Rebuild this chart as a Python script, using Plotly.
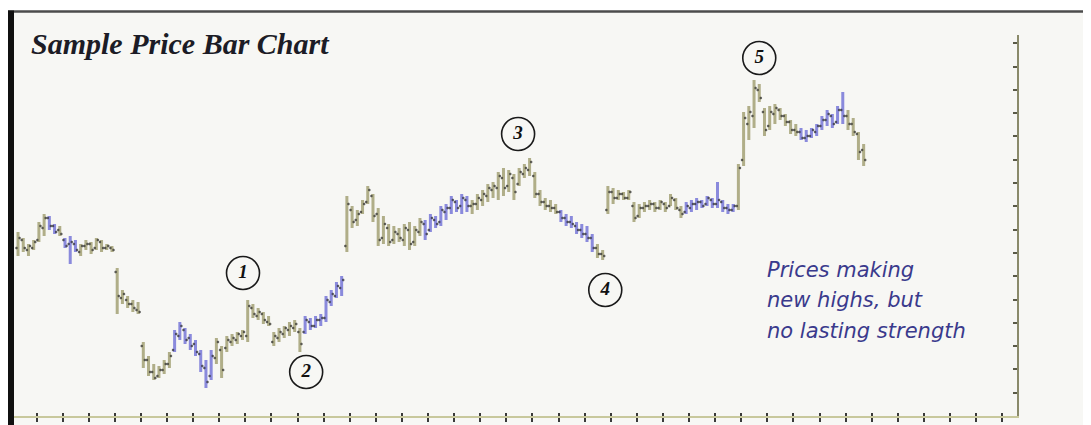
import plotly.graph_objects as go

# ---------------- data ----------------
high = [29.2,28.9,28.6,28.8,29.7,30.1,30.0,29.6,29.5,28.9,
        29.0,28.8,28.6,28.8,28.7,28.9,28.8,28.6,28.5,27.4,
        26.3,26.0,25.8,25.7,23.7,23.0,22.6,22.5,22.8,23.2,
        24.3,24.7,24.4,24.1,23.8,23.3,22.8,23.3,23.9,23.5,
        24.0,24.1,24.2,24.3,25.8,25.6,25.4,25.2,25.0,24.2,
        24.4,24.5,24.7,24.8,24.4,25.0,24.9,25.0,25.1,26.0,
        26.3,26.7,27.0,31.0,30.5,30.3,30.8,31.5,31.1,30.4,
        30.0,29.6,29.5,29.4,29.6,29.7,29.5,29.9,29.8,30.1,
        30.0,30.5,30.6,31.0,30.8,31.1,31.0,30.8,31.1,31.3,
        31.6,31.7,32.2,32.4,32.3,32.1,32.4,32.6,32.9,32.2,
        31.3,30.9,30.8,30.6,30.3,30.1,30.0,29.7,29.6,29.5,
        29.1,28.6,28.3,31.5,31.4,31.3,31.2,31.3,30.7,30.6,
        30.7,30.8,30.7,30.8,30.7,31.1,30.9,30.5,30.7,30.8,
        30.9,30.8,31.0,30.9,31.7,30.8,30.6,30.6,32.6,35.2,
        35.5,36.8,36.6,35.4,35.5,35.6,35.4,35.1,34.8,34.6,
        34.4,34.3,34.4,34.6,35.0,35.3,35.1,35.5,36.2,35.3,
        34.9,34.2,33.6]

low = [28.0,28.2,28.0,28.3,28.7,29.0,29.3,29.1,29.0,28.4,
       27.6,28.2,28.0,28.3,28.1,28.3,28.2,28.3,28.2,25.1,
       25.6,25.4,25.2,25.1,22.4,22.0,21.8,21.9,22.1,22.4,
       23.2,23.8,23.6,23.3,23.0,22.2,21.4,21.8,22.6,21.9,
       23.2,23.5,23.6,23.8,23.7,24.9,24.8,24.6,24.5,23.5,
       23.7,23.9,24.0,24.2,23.2,24.1,24.3,24.4,24.5,24.7,
       25.5,25.9,26.0,28.2,29.4,29.5,30.1,30.6,29.7,28.5,
       28.6,28.5,28.6,28.7,28.5,28.3,28.5,29.0,28.8,29.2,
       29.4,29.5,29.8,30.1,30.2,30.1,30.2,30.1,30.3,30.5,
       30.7,30.9,30.8,31.0,31.2,30.8,31.5,31.9,32.0,30.9,
       30.5,30.3,30.2,30.1,29.7,29.5,29.4,29.1,28.9,28.7,
       28.2,27.9,27.8,30.1,30.6,30.8,30.8,30.8,29.7,29.9,
       30.2,30.3,30.2,30.3,30.2,30.5,30.3,29.9,30.1,30.2,
       30.3,30.4,30.5,30.4,30.4,30.2,30.1,30.2,30.3,32.5,
       33.8,34.4,35.7,34.0,34.3,34.6,34.8,34.5,34.1,34.0,
       33.8,33.7,33.9,34.0,34.3,34.5,34.4,34.6,34.6,34.3,
       34.0,32.8,32.5]

open_ = [28.4,28.8,28.3,28.4,28.8,29.4,29.9,29.5,29.3,28.8,
         28.6,28.6,28.2,28.5,28.6,28.4,28.7,28.4,28.4,27.2,
         25.9,25.8,25.6,25.3,23.5,22.8,22.2,22.0,22.3,22.6,
         23.3,24.0,24.3,23.9,23.6,23.1,22.4,22.0,22.9,23.3,
         23.4,23.7,23.8,24.0,24.0,25.4,25.0,25.1,24.7,23.7,
         23.9,24.1,24.3,24.4,24.2,24.2,24.7,24.5,24.8,24.9,
         25.7,26.0,26.4,28.5,30.3,29.8,30.2,30.7,31.0,30.1,
         28.9,29.4,28.8,29.1,28.8,29.3,28.7,29.2,29.6,29.3,
         29.8,29.7,30.2,30.4,30.7,30.5,30.8,30.5,30.6,30.8,
         31.0,31.3,31.4,31.9,31.5,31.9,31.6,32.1,32.3,32.0,
         31.1,30.7,30.5,30.4,30.2,29.9,29.7,29.5,29.3,29.1,
         28.9,28.4,28.1,30.3,31.2,30.9,31.1,30.9,30.5,30.0,
         30.4,30.5,30.6,30.4,30.6,30.5,30.8,30.3,30.2,30.4,
         30.6,30.7,30.6,30.8,30.6,30.7,30.4,30.3,30.5,32.8,
         34.6,35.0,36.3,35.2,34.5,35.1,35.3,35.0,34.7,34.3,
         34.2,33.9,34.0,34.2,34.5,34.8,35.0,34.7,35.3,35.0,
         34.6,34.1,33.3]

close = [28.9,28.4,28.5,28.7,29.5,29.9,29.5,29.2,29.1,28.5,
         28.7,28.3,28.5,28.6,28.3,28.8,28.4,28.5,28.3,26.0,
         26.1,25.6,25.4,25.2,22.8,22.2,21.9,22.3,22.6,23.0,
         24.1,24.5,23.8,23.5,23.2,22.5,21.7,23.0,23.7,22.3,
         23.8,23.9,24.1,24.2,25.5,25.1,25.2,24.8,24.6,24.0,
         24.2,24.4,24.5,24.6,23.6,24.8,24.5,24.8,24.9,25.8,
         26.1,26.5,26.8,30.6,29.7,30.1,30.6,31.3,30.0,28.8,
         29.6,28.7,29.2,28.9,29.4,28.6,29.3,29.7,29.1,29.9,
         29.6,30.3,30.4,30.8,30.4,30.9,30.5,30.6,30.9,31.1,
         31.4,31.5,32.0,31.4,32.1,31.2,32.2,32.4,32.7,31.1,
         30.7,30.5,30.4,30.2,29.9,29.7,29.6,29.3,29.1,28.9,
         28.4,28.1,28.0,31.2,30.9,31.1,30.9,31.2,29.9,30.4,
         30.5,30.6,30.4,30.7,30.4,30.9,30.4,30.1,30.5,30.6,
         30.7,30.5,30.9,30.6,30.8,30.4,30.3,30.5,32.4,34.9,
         35.2,36.4,35.9,34.3,35.2,35.4,35.0,34.7,34.3,34.2,
         33.9,34.0,34.3,34.5,34.8,35.1,34.6,35.3,35.0,34.6,
         34.2,33.2,32.8]

# colour group of consecutive bars: (group, number of bars)
color_runs = [("olive", 6), ("blue", 2), ("olive", 1), ("blue", 3), ("olive", 18),
              ("blue", 8), ("olive", 17), ("blue", 8), ("olive", 15), ("blue", 9),
              ("olive", 17), ("blue", 7), ("olive", 17), ("blue", 10), ("olive", 12),
              ("blue", 9), ("olive", 4)]

label_text = ["1", "2", "3", "4", "5"]
label_x = [43.1, 55.2, 95.8, 112.5, 142.0]
label_y = [27.15, 22.2, 34.1, 26.3, 37.9]

note_lines = ["Prices making", "new highs, but", "no lasting strength"]
note_y = [27.3, 25.8, 24.25]
note_x = 143.1

title_text = "Sample Price Bar Chart"

# ---------------- figure ----------------
n = len(high)
assert len(low) == n and len(open_) == n and len(close) == n
bar_x = list(range(n))
bar_group = []
for g, k in color_runs:
    bar_group += [g] * k
assert len(bar_group) == n

group_colors = {"olive": "#b0ae88", "blue": "#8a8adc"}

# the page body has an 8px margin, so the figure is drawn 8px right/down
OFF = 8
W, H = 1091 - OFF, 425 - OFF
L, R, T, B = 14 - OFF, 1091 - 1017, 35 - OFF, 425 - 416
pw, ph = W - L - R, H - T - B


def px(p):  # screen x -> paper x
    return (p - OFF - L) / pw


def py(q):  # screen y -> paper y
    return (H - B - (q - OFF)) / ph


fig = go.Figure()
for g, col in group_colors.items():
    idx = [i for i in range(n) if bar_group[i] == g]
    fig.add_trace(go.Ohlc(
        x=[bar_x[i] for i in idx],
        open=[open_[i] for i in idx], high=[high[i] for i in idx],
        low=[low[i] for i in idx], close=[close[i] for i in idx],
        increasing=dict(line=dict(color=col, width=3)),
        decreasing=dict(line=dict(color=col, width=3)),
        tickwidth=0.35, showlegend=False, hoverinfo="skip"))

# dark dots on the open/close ticks
fig.add_trace(go.Scatter(
    x=[v - 0.3 for v in bar_x] + [v + 0.3 for v in bar_x],
    y=open_ + close, mode="markers",
    marker=dict(size=2.6, color="#2c2c2c", opacity=0.7),
    showlegend=False, hoverinfo="skip"))

# circled wave labels
fig.add_trace(go.Scatter(
    x=label_x, y=label_y, mode="markers+text", text=label_text,
    textposition="middle center",
    textfont=dict(family="Liberation Serif", size=19, color="#111111", style="italic",
                  weight="bold"),
    marker=dict(symbol="circle-open", size=33, color="#1a1a1a", line=dict(width=1.6, color="#1a1a1a")),
    showlegend=False, hoverinfo="skip"))

# invisible helper so the second (tick-only) x axis is drawn
fig.add_trace(go.Scatter(x=[0], y=[20], xaxis="x2", mode="markers",
                         marker=dict(opacity=0), showlegend=False, hoverinfo="skip"))

for t, yv in zip(note_lines, note_y):
    fig.add_annotation(x=note_x, y=yv, xref="x", yref="y", text=t, showarrow=False,
                       xanchor="left", yanchor="middle",
                       font=dict(family="DejaVu Sans", size=21, color="#3a3a8c", style="italic"))

fig.add_annotation(x=px(29), y=py(44), xref="paper", yref="paper", text=title_text,
                   showarrow=False, xanchor="left", yanchor="middle",
                   font=dict(family="Liberation Serif", size=30, color="#1c1c26",
                             weight="bold", style="italic"))

bg = "#f7f7f4"
shapes = [
    # white strip above the frame
    dict(type="rect", xref="paper", yref="paper", x0=px(0), x1=px(1091), y0=py(11), y1=py(0),
         fillcolor="white", line=dict(width=0), layer="below"),
    # frame top line
    dict(type="line", xref="paper", yref="paper", x0=px(8), x1=px(1091), y0=py(11.5), y1=py(11.5),
         line=dict(color="#4c4c4c", width=2.5)),
    # thick left border
    dict(type="rect", xref="paper", yref="paper", x0=px(8), x1=px(14), y0=py(425), y1=py(10.5),
         fillcolor="#101010", line=dict(width=0)),
]

xrange_ = [-0.77, -0.77 + pw / 5.22]
fig.update_layout(
    width=W, height=H, margin=dict(l=L, r=R, t=T, b=B),
    paper_bgcolor=bg, plot_bgcolor=bg, shapes=shapes,
    xaxis=dict(range=xrange_, showgrid=False, zeroline=False,
               showline=True, linecolor="#c8c89c", linewidth=1.6,
               ticks="outside", ticklen=4, tickwidth=2, tickcolor="#3a3a3a",
               tick0=3.54, dtick=5, showticklabels=False, rangeslider=dict(visible=False)),
    xaxis2=dict(range=xrange_, overlaying="x", side="bottom", anchor="y",
                showgrid=False, zeroline=False, showline=False,
                ticks="inside", ticklen=3, tickwidth=2, tickcolor="#3a3a3a",
                tick0=3.54, dtick=5, showticklabels=False),
    yaxis=dict(range=[20, 20 + ph / 20], side="right", showgrid=False, zeroline=False,
               showline=True, linecolor="#8a8a6a", linewidth=2,
               ticks="inside", ticklen=4, tickwidth=1.5, tickcolor="#5a5a48",
               tick0=20, dtick=1.165, showticklabels=False),
)

fig.write_html("out.html")
